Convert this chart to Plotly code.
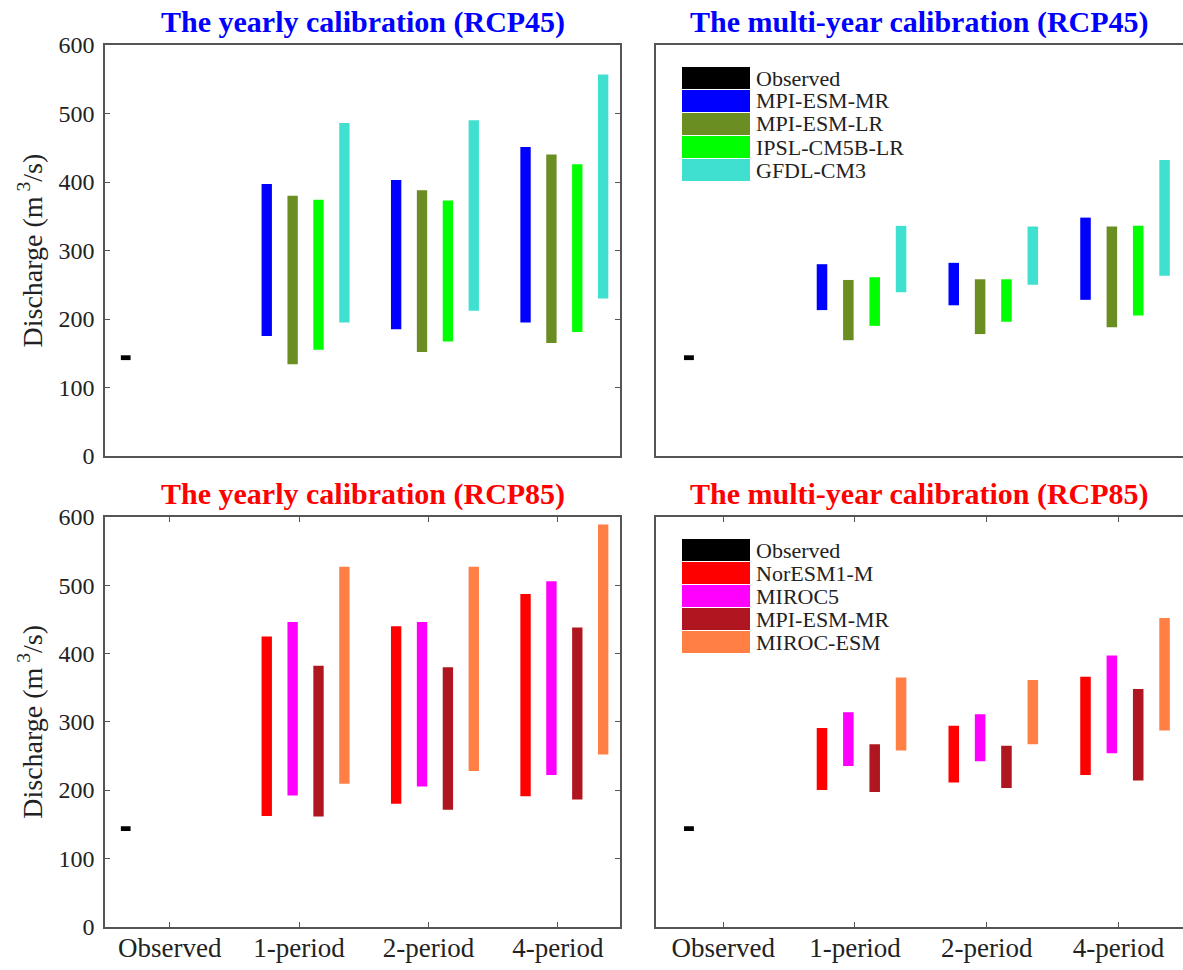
import plotly.graph_objects as go

W, H = 1183, 970

# ---- data -------------------------------------------------------------
categories = ["Observed", "1-period", "2-period", "4-period"]
period_index = [2, 3, 4]          # positions of the calibration periods

observed_low = 140
observed_high = 147

rcp45_models = ["MPI-ESM-MR", "MPI-ESM-LR", "IPSL-CM5B-LR", "GFDL-CM3"]
rcp85_models = ["NorESM1-M", "MIROC5", "MPI-ESM-MR", "MIROC-ESM"]

# discharge ranges (m3/s), one row per model, columns = 1-, 2-, 4-period
yearly45_low = [[175, 185, 195], [134, 152, 165], [155, 167, 181], [195, 212, 230]]
yearly45_high = [[397, 403, 451], [380, 388, 440], [374, 373, 426], [486, 490, 557]]

multi45_low = [[213, 220, 228], [169, 178, 188], [190, 196, 205], [239, 250, 263]]
multi45_high = [[280, 282, 348], [257, 258, 335], [261, 258, 336], [336, 335, 432]]

yearly85_low = [[162, 180, 191], [192, 205, 222], [161, 171, 186], [209, 228, 252]]
yearly85_high = [[425, 440, 487], [446, 446, 506], [382, 380, 438], [527, 527, 589]]

multi85_low = [[200, 211, 222], [235, 242, 254], [197, 203, 214], [258, 267, 287]]
multi85_high = [[291, 294, 366], [314, 311, 397], [267, 265, 348], [365, 361, 452]]

y_ticks = [0, 100, 200, 300, 400, 500, 600]

# ---- styling ----------------------------------------------------------
FONT = "Liberation Serif, Times New Roman, serif"
TXT = "#222222"
AXC = "#555555"
rcp45_colors = ["#0000FF", "#6B8E23", "#00FF00", "#40E0D0"]
rcp85_colors = ["#FF0000", "#FF00FF", "#B0161F", "#FF7F45"]
obs_color = "#000000"

model_offsets = [-0.25, -0.05, 0.15, 0.35]
bar_w = 0.08


def px_x(p):
    return p / W


def px_y(p):
    return 1 - p / H


# panel boxes in pixels: (left, right, top, bottom)
boxes = {
    1: (105, 620, 45, 456),
    2: (656, 1183, 45, 456),
    3: (105, 620, 517, 926.5),
    4: (656, 1183, 517, 926.5),
}
x_ranges = {1: [0.5, 4.48], 2: [0.49, 4.49], 3: [0.5, 4.48], 4: [0.49, 4.49]}
obs_offset = {1: -0.34, 2: -0.26, 3: -0.34, 4: -0.26}

panels = [
    (1, "The yearly calibration (RCP45)", "#0000FF", rcp45_models, rcp45_colors, yearly45_low, yearly45_high),
    (2, "The multi-year calibration (RCP45)", "#0000FF", rcp45_models, rcp45_colors, multi45_low, multi45_high),
    (3, "The yearly calibration (RCP85)", "#FF0000", rcp85_models, rcp85_colors, yearly85_low, yearly85_high),
    (4, "The multi-year calibration (RCP85)", "#FF0000", rcp85_models, rcp85_colors, multi85_low, multi85_high),
]

fig = go.Figure()
annotations = []
shapes = []

for k, title, tcolor, models, colors, lows, highs in panels:
    xa = "x" if k == 1 else f"x{k}"
    ya = "y" if k == 1 else f"y{k}"

    # observed range
    fig.add_trace(go.Bar(
        x=[1 + obs_offset[k]], base=[observed_low], y=[observed_high - observed_low],
        width=0.075, marker=dict(color=obs_color, line=dict(width=0)),
        xaxis=xa, yaxis=ya, showlegend=False, name="Observed"))

    # model ranges per calibration period
    for i, (m, c) in enumerate(zip(models, colors)):
        fig.add_trace(go.Bar(
            x=[p + model_offsets[i] for p in period_index],
            base=lows[i],
            y=[h - l for h, l in zip(highs[i], lows[i])],
            width=bar_w, marker=dict(color=c, line=dict(width=0)),
            xaxis=xa, yaxis=ya, showlegend=False, name=m))

    left, right, top, bottom = boxes[k]
    bottom_row = k in (3, 4)
    left_col = k in (1, 3)

    xaxis = dict(
        domain=[px_x(left), px_x(right)], range=x_ranges[k], anchor=ya,
        automargin=False,
        showline=True, linecolor=AXC, linewidth=1.5, mirror=("ticks" if bottom_row else True),
        showgrid=False, zeroline=False,
        tickvals=[1, 2, 3, 4], ticktext=categories,
        showticklabels=bottom_row,
        ticks=("inside" if bottom_row else ""), ticklen=5, tickcolor=AXC, tickwidth=1,
        tickfont=dict(family=FONT, size=27, color=TXT),
        ticklabelstandoff=-4,
    )
    yaxis = dict(
        domain=[px_y(bottom), px_y(top)], range=[0, 600], anchor=xa,
        automargin=False,
        showline=True, linecolor=AXC, linewidth=1.5,
        mirror=("ticks" if left_col else False),
        showgrid=False, zeroline=False,
        tickvals=y_ticks, showticklabels=left_col,
        ticks=("inside" if left_col else ""), ticklen=5, tickcolor=AXC, tickwidth=1,
        tickfont=dict(family=FONT, size=24, color=TXT),
        ticklabelstandoff=4,
    )
    fig.layout["xaxis" if k == 1 else f"xaxis{k}"] = xaxis
    fig.layout["yaxis" if k == 1 else f"yaxis{k}"] = yaxis

    # panel title
    annotations.append(dict(
        text=f"<b>{title}</b>", x=px_x((left + right) / 2), y=px_y(top - 23),
        xref="paper", yref="paper", xanchor="center", yanchor="middle",
        showarrow=False, font=dict(family=FONT, size=30, color=tcolor)))

    # y axis title
    if left_col:
        annotations.append(dict(
            text="Discharge (m<sup> 3</sup>/s)", x=px_x(31), y=px_y((top + bottom) / 2),
            xref="paper", yref="paper", xanchor="center", yanchor="middle",
            textangle=-90, showarrow=False, font=dict(family=FONT, size=28, color=TXT)))
    else:
        # legend drawn inside the right-hand panels
        names = ["Observed"] + models
        cols = [obs_color] + colors
        for j, (n, c) in enumerate(zip(names, cols)):
            cy = top + 33 + j * 23
            shapes.append(dict(
                type="rect", xref="paper", yref="paper",
                x0=px_x(682), x1=px_x(750), y0=px_y(cy - 11), y1=px_y(cy + 11),
                fillcolor=c, line=dict(width=0)))
            annotations.append(dict(
                text=n, x=px_x(754), y=px_y(cy), xref="paper", yref="paper",
                xanchor="left", yanchor="middle", showarrow=False,
                font=dict(family=FONT, size=22, color=TXT)))

fig.update_layout(
    width=W, height=H,
    margin=dict(l=0, r=0, t=0, b=0, autoexpand=False),
    paper_bgcolor="white", plot_bgcolor="white",
    barmode="overlay",
    annotations=annotations, shapes=shapes,
    showlegend=False,
)

fig.write_html("out.html")
